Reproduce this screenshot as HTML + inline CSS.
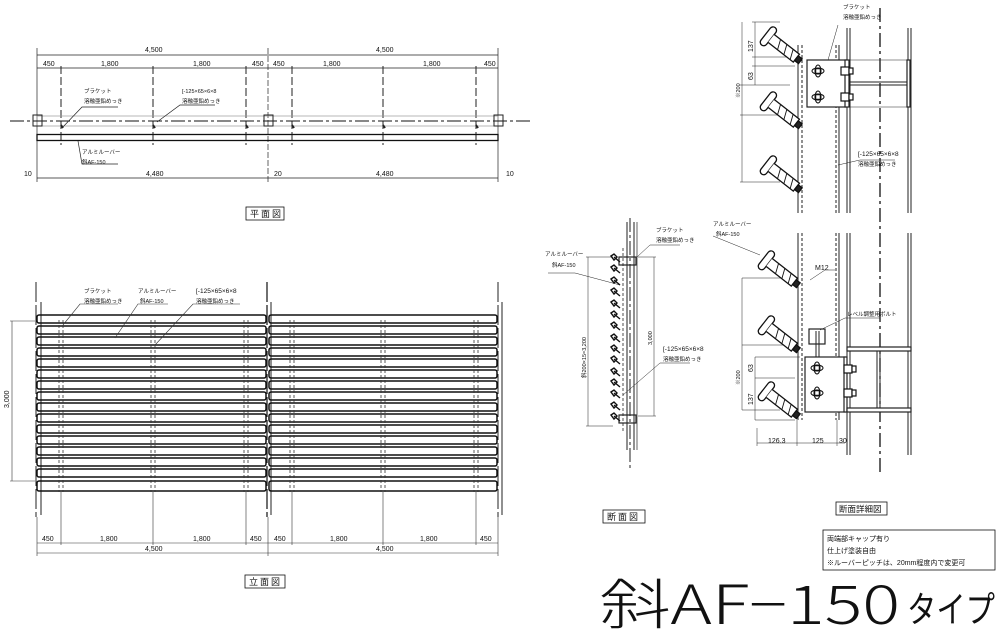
<!DOCTYPE html>
<html><head><meta charset="utf-8"><style>
html,body{margin:0;padding:0;background:#fff;}
svg{display:block;}
text{font-family:"Liberation Sans","Noto Sans CJK JP",sans-serif;fill:#111;}
.t{font-size:7px;}
.s{font-size:5.5px;}
</style></head><body>
<svg width="1000" height="636" viewBox="0 0 1000 636" xmlns="http://www.w3.org/2000/svg">
<defs>
  <g id="lv" stroke="#111" fill="#fff" stroke-width="1.3">
    <rect x="-3" y="-11" width="7" height="22" rx="3.5"/>
    <path d="M4,-5 L36,-5 L36,5 L4,5" fill="#fff"/>
    <path d="M12,-5 L16,5 M20,-5 L24,5 M28,-5 L32,5" stroke-width="0.9"/>
    <rect x="36" y="-3" width="5" height="6" fill="#222"/>
  </g>
  <g id="sl" stroke="#111" fill="none" stroke-width="1.4">
    <path d="M0,0 l3,-2 l3,3 l-3,3 z M3,1 l6,5" />
  </g>
  <g id="bolt" stroke="#111" fill="none" stroke-width="1">
    <ellipse cx="0" cy="0" rx="6" ry="3"/><ellipse cx="0" cy="0" rx="3" ry="6"/>
    <rect x="-2.5" y="-2.5" width="5" height="5" fill="#fff" stroke-width="1.5"/>
  </g>
  <g id="hb" stroke="#111" fill="#fff" stroke-width="1.2">
    <rect x="-4" y="-4" width="8" height="8"/><rect x="4" y="-3" width="4" height="6"/>
  </g>
</defs>

<!-- ================= PLAN VIEW ================= -->
<g stroke="#222" stroke-width="0.7" fill="none">
  <line x1="37" y1="55" x2="498" y2="55"/>
  <line x1="37" y1="68" x2="498" y2="68"/>
  <line x1="37" y1="178" x2="498" y2="178"/>
  <line x1="37" y1="48" x2="37" y2="182"/>
  <line x1="268" y1="48" x2="268" y2="182" stroke-dasharray="6,2"/>
  <line x1="498" y1="48" x2="498" y2="182"/>
  <g stroke-dasharray="8,3" stroke-width="1">
    <line x1="61" y1="66" x2="61" y2="145"/><line x1="153" y1="66" x2="153" y2="145"/>
    <line x1="246" y1="66" x2="246" y2="145"/><line x1="292" y1="66" x2="292" y2="145"/>
    <line x1="383" y1="66" x2="383" y2="145"/><line x1="476" y1="66" x2="476" y2="145"/>
  </g>
  <rect x="37" y="116" width="461" height="10" stroke="#999"/>
  <line x1="10" y1="121" x2="530" y2="121" stroke="#111" stroke-dasharray="14,3,3,3" stroke-width="1"/>
  <rect x="33" y="115" width="9" height="11" stroke-width="1"/>
  <rect x="264" y="115" width="9" height="11" stroke-width="1"/>
  <rect x="494" y="115" width="9" height="11" stroke-width="1"/>
  <rect x="37" y="134.5" width="461" height="6" stroke="#111" stroke-width="1.3"/>
  <path d="M63,128 l-2,-3 M155,128 l-2,-3 M248,128 l-2,-3 M294,128 l-2,-3 M385,128 l-2,-3 M478,128 l-2,-3" stroke-width="2"/>
  <path d="M62,128 L82,107 L118,107"/>
  <path d="M157,122 L180,105 L215,105"/>
  <path d="M78,141 L82,164 L118,164"/>
</g>
<g class="t">
  <text x="145" y="52">4,500</text><text x="376" y="52">4,500</text>
  <text x="43" y="66">450</text><text x="101" y="66">1,800</text><text x="193" y="66">1,800</text><text x="252" y="66">450</text>
  <text x="273" y="66">450</text><text x="323" y="66">1,800</text><text x="423" y="66">1,800</text><text x="484" y="66">450</text>
  <text x="24" y="176">10</text><text x="146" y="176">4,480</text><text x="274" y="176">20</text><text x="376" y="176">4,480</text><text x="506" y="176">10</text>
</g>
<g class="s">
  <text x="84" y="93">ブラケット</text><text x="84" y="103">溶融亜鉛めっき</text>
  <text x="182" y="93">[-125×65×6×8</text><text x="182" y="103">溶融亜鉛めっき</text>
  <text x="82" y="154">アルミルーバー</text><text x="82" y="164">斜AF-150</text>
</g>
<rect x="246" y="207" width="38" height="13" fill="none" stroke="#111" stroke-width="0.8"/>
<text x="250" y="217" style="font-size:9px;letter-spacing:2px">平面図</text>

<!-- ================= ELEVATION ================= -->
<g stroke="#222" stroke-width="1" fill="none">
  <line x1="36" y1="282" x2="36" y2="517" stroke-dasharray="20,3"/>
  <line x1="41" y1="302" x2="41" y2="515"/>
  <line x1="267" y1="282" x2="267" y2="517" stroke-dasharray="20,3" stroke-width="1.3"/>
  <line x1="271" y1="302" x2="271" y2="515"/>
  <line x1="498" y1="282" x2="498" y2="517" stroke-dasharray="20,3"/>
  <line x1="502" y1="302" x2="502" y2="515"/>
</g>
<g stroke="#111" stroke-width="1.5" fill="none">
  <rect x="37" y="315" width="229" height="8" rx="2"/><rect x="269" y="315" width="228" height="8" rx="2"/>
  <rect x="37" y="326" width="229" height="8" rx="2"/><rect x="269" y="326" width="228" height="8" rx="2"/>
  <rect x="37" y="337" width="229" height="8" rx="2"/><rect x="269" y="337" width="228" height="8" rx="2"/>
  <rect x="37" y="348" width="229" height="8" rx="2"/><rect x="269" y="348" width="228" height="8" rx="2"/>
  <rect x="37" y="359" width="229" height="8" rx="2"/><rect x="269" y="359" width="228" height="8" rx="2"/>
  <rect x="37" y="370" width="229" height="8" rx="2"/><rect x="269" y="370" width="228" height="8" rx="2"/>
  <rect x="37" y="381" width="229" height="8" rx="2"/><rect x="269" y="381" width="228" height="8" rx="2"/>
  <rect x="37" y="392" width="229" height="8" rx="2"/><rect x="269" y="392" width="228" height="8" rx="2"/>
  <rect x="37" y="403" width="229" height="8" rx="2"/><rect x="269" y="403" width="228" height="8" rx="2"/>
  <rect x="37" y="414" width="229" height="8" rx="2"/><rect x="269" y="414" width="228" height="8" rx="2"/>
  <rect x="37" y="425" width="229" height="8" rx="2"/><rect x="269" y="425" width="228" height="8" rx="2"/>
  <rect x="37" y="436" width="229" height="8" rx="2"/><rect x="269" y="436" width="228" height="8" rx="2"/>
  <rect x="37" y="447" width="229" height="8" rx="2"/><rect x="269" y="447" width="228" height="8" rx="2"/>
  <rect x="37" y="458" width="229" height="8" rx="2"/><rect x="269" y="458" width="228" height="8" rx="2"/>
  <rect x="37" y="469" width="229" height="8" rx="2"/><rect x="269" y="469" width="228" height="8" rx="2"/>
  <rect x="37" y="481" width="229" height="10" rx="2"/><rect x="269" y="481" width="228" height="10" rx="2"/>
</g>
<g stroke="#333" stroke-width="0.8" fill="none" stroke-dasharray="3,2">
  <path d="M59,320 V492 M63,320 V492 M151,320 V492 M155,320 V492 M244,320 V492 M248,320 V492"/>
  <path d="M290,320 V492 M294,320 V492 M381,320 V492 M385,320 V492 M474,320 V492 M478,320 V492"/>
</g>
<g stroke="#333" stroke-width="0.6" fill="none">
  <line x1="10" y1="321" x2="35" y2="321"/><line x1="10" y1="481" x2="35" y2="481"/>
  <line x1="12" y1="321" x2="12" y2="481"/>
  <path d="M63,325 L80,304 L118,304"/><path d="M115,338 L138,304 L168,304"/><path d="M155,345 L193,304 L240,304"/>
  <line x1="37" y1="543" x2="498" y2="543"/><line x1="37" y1="553" x2="498" y2="553"/>
  <path d="M61,492 V545 M153,492 V545 M246,492 V545 M292,492 V545 M383,492 V545 M476,492 V545"/>
  <line x1="37" y1="517" x2="37" y2="556"/><line x1="268" y1="517" x2="268" y2="556"/><line x1="498" y1="517" x2="498" y2="556"/>
</g>
<text class="t" transform="translate(9,408) rotate(-90)">3,000</text>
<g class="s">
  <text x="84" y="293">ブラケット</text><text x="84" y="303">溶融亜鉛めっき</text>
  <text x="138" y="293">アルミルーバー</text><text x="140" y="303">斜AF-150</text>
  <text x="196" y="293" style="font-size:6.5px">[-125×65×6×8</text><text x="196" y="303">溶融亜鉛めっき</text>
</g>
<g class="t">
  <text x="42" y="541">450</text><text x="100" y="541">1,800</text><text x="193" y="541">1,800</text><text x="250" y="541">450</text>
  <text x="274" y="541">450</text><text x="330" y="541">1,800</text><text x="420" y="541">1,800</text><text x="480" y="541">450</text>
  <text x="145" y="551">4,500</text><text x="376" y="551">4,500</text>
</g>
<rect x="245" y="575" width="40" height="13" fill="none" stroke="#111" stroke-width="0.8"/>
<text x="249" y="585" style="font-size:9px;letter-spacing:2px">立面図</text>

<!-- ================= SECTION ================= -->
<g stroke="#222" fill="none">
  <line x1="630" y1="218" x2="630" y2="470" stroke-dasharray="14,3,3,3" stroke-width="1"/>
  <line x1="623" y1="248" x2="623" y2="432" stroke-dasharray="3,2" stroke-width="0.8"/>
  <line x1="627" y1="222" x2="627" y2="450" stroke-width="1"/>
  <line x1="634" y1="222" x2="634" y2="450" stroke-width="1"/>
  <line x1="637" y1="222" x2="637" y2="450" stroke-width="0.7"/>
  <rect x="619" y="257" width="17" height="8" stroke-width="1.2"/>
  <rect x="619" y="415" width="17" height="8" stroke-width="1.2"/>
  <line x1="586" y1="257" x2="613" y2="257" stroke-width="0.5"/><line x1="586" y1="426" x2="613" y2="426" stroke-width="0.5"/>
  <line x1="588" y1="257" x2="588" y2="426" stroke-width="0.5"/>
  <line x1="638" y1="257" x2="656" y2="257" stroke-width="0.5"/><line x1="638" y1="416" x2="656" y2="416" stroke-width="0.5"/>
  <line x1="654" y1="257" x2="654" y2="416" stroke-width="0.5"/>
  <path d="M637,257 L650,245 L680,245" stroke-width="0.5"/>
  <path d="M620,285 L575,273 L548,273" stroke-width="0.5"/>
  <path d="M623,395 L660,363 L690,363" stroke-width="0.5"/>
</g>
<g>
  <use href="#sl" x="611" y="256"/><use href="#sl" x="611" y="267"/><use href="#sl" x="611" y="279"/>
  <use href="#sl" x="611" y="290"/><use href="#sl" x="611" y="302"/><use href="#sl" x="611" y="313"/>
  <use href="#sl" x="611" y="324"/><use href="#sl" x="611" y="336"/><use href="#sl" x="611" y="347"/>
  <use href="#sl" x="611" y="358"/><use href="#sl" x="611" y="370"/><use href="#sl" x="611" y="381"/>
  <use href="#sl" x="611" y="392"/><use href="#sl" x="611" y="404"/><use href="#sl" x="611" y="415"/>
</g>
<g class="s">
  <text x="656" y="232">ブラケット</text><text x="656" y="242">溶融亜鉛めっき</text>
  <text x="545" y="256">アルミルーバー</text><text x="552" y="267">斜AF-150</text>
  <text x="663" y="351" style="font-size:6.5px">[-125×65×6×8</text><text x="663" y="361">溶融亜鉛めっき</text>
</g>
<text class="s" transform="translate(586,378) rotate(-90)">斜200×15=3,200</text>
<text class="s" transform="translate(652,345) rotate(-90)">3,000</text>
<rect x="603" y="510" width="42" height="13" fill="none" stroke="#111" stroke-width="0.8"/>
<text x="607" y="520" style="font-size:9px;letter-spacing:2px">断面図</text>

<!-- ================= DETAIL ================= -->
<g stroke="#222" fill="none">
  <line x1="880" y1="8" x2="880" y2="476" stroke="#111" stroke-width="1.3" stroke-dasharray="14,4,3,4"/>
  <g stroke-width="1">
    <path d="M798,45 V213 M798,233 V420"/>
    <path d="M802,45 V213 M802,233 V420" stroke-dasharray="3,2"/>
    <path d="M836,45 V213 M836,233 V420" stroke-dasharray="3,2"/>
    <path d="M839,45 V213 M839,233 V420"/>
    <path d="M847,28 V213 M847,233 V455"/>
    <path d="M850,28 V213 M850,233 V455"/>
    <path d="M908,28 V213 M908,233 V455"/>
    <path d="M911,28 V213 M911,233 V455"/>
  </g>
  <rect x="807" y="60" width="40" height="47" fill="#fff" stroke-width="1.2"/>
  <rect x="845" y="60" width="4" height="47" fill="#fff" stroke-width="1.2"/>
  <rect x="907" y="60" width="3" height="47" fill="#fff" stroke-width="1.2"/>
  <line x1="849" y1="60" x2="907" y2="60" stroke-width="0.6"/><line x1="849" y1="107" x2="907" y2="107" stroke-width="0.6"/>
  <path d="M849,82 H907 M849,85 H907" stroke-width="1"/>
  <rect x="805" y="357" width="40" height="55" fill="#fff" stroke-width="1.2"/>
  <rect x="844" y="357" width="3" height="55" fill="#fff" stroke-width="1.2"/>
  <rect x="847" y="347" width="64" height="4" fill="#fff" stroke-width="1.2"/>
  <rect x="847" y="408" width="64" height="4" fill="#fff" stroke-width="1.2"/>
  <path d="M877,351 V408 M880,351 V408" stroke-width="1"/>
  <rect x="809" y="329" width="16" height="15" fill="#fff" stroke-width="1.2"/>
  <path d="M816,331 V357 M819,331 V357" stroke-width="1"/>
  <g stroke-width="0.5">
    <path d="M752,22 H780 M752,57 H795 M752,66 H795 M740,85 H790 M740,115 H780 M740,182 H780 M742,22 V182"/>
    <path d="M755,22 V85"/>
    <path d="M742,278 H790 M742,345 H790 M755,357 H800 M755,378 H795 M742,410 H780 M755,420 H795 M742,278 V410 M755,357 V420"/>
    <path d="M757,443 H845 M757,428 V446 M797,420 V446 M837,420 V446 M847,420 V446"/>
    <path d="M838,25 L828,60" /><path d="M838,165 L860,160 L895,160"/>
    <path d="M713,236 L760,255"/><path d="M810,280 L825,270 L835,270"/>
    <path d="M820,330 L845,318 L880,318"/>
  </g>
</g>
<g>
  <use href="#lv" transform="translate(768,36) rotate(38)"/>
  <use href="#lv" transform="translate(768,101) rotate(38)"/>
  <use href="#lv" transform="translate(768,165) rotate(38)"/>
  <use href="#lv" transform="translate(766,260) rotate(38)"/>
  <use href="#lv" transform="translate(766,325) rotate(38)"/>
  <use href="#lv" transform="translate(766,391) rotate(38)"/>
  <use href="#bolt" x="818" y="71"/><use href="#bolt" x="818" y="97"/>
  <use href="#bolt" x="817" y="368"/><use href="#bolt" x="817" y="393"/>
  <use href="#hb" x="845" y="71"/><use href="#hb" x="845" y="97"/>
  <use href="#hb" x="848" y="369"/><use href="#hb" x="848" y="393"/>
</g>
<g class="s">
  <text x="843" y="9">ブラケット</text><text x="843" y="19">溶融亜鉛めっき</text>
  <text x="858" y="156" style="font-size:6.5px">[-125×65×6×8</text><text x="858" y="166">溶融亜鉛めっき</text>
  <text x="713" y="226">アルミルーバー</text><text x="716" y="236">斜AF-150</text>
  <text x="815" y="270" style="font-size:7px">M12</text>
  <text x="847" y="316">レベル調整用ボルト</text>
  <text x="768" y="443" style="font-size:7px">126.3</text><text x="812" y="443" style="font-size:7px">125</text><text x="839" y="443" style="font-size:7px">30</text>
</g>
<g class="s">
  <text transform="translate(753,52) rotate(-90)" style="font-size:7px">137</text>
  <text transform="translate(753,80) rotate(-90)" style="font-size:7px">63</text>
  <text transform="translate(740,98) rotate(-90)">※200</text>
  <text transform="translate(753,372) rotate(-90)" style="font-size:7px">63</text>
  <text transform="translate(753,405) rotate(-90)" style="font-size:7px">137</text>
  <text transform="translate(740,385) rotate(-90)">※200</text>
</g>
<rect x="836" y="502" width="51" height="13" fill="none" stroke="#111" stroke-width="0.8"/>
<text x="839" y="512" style="font-size:8.5px">断面詳細図</text>

<!-- ================= NOTES ================= -->
<rect x="823" y="530" width="172" height="40" fill="none" stroke="#111" stroke-width="0.8"/>
<text x="827" y="541" style="font-size:7px">両端部キャップ有り</text>
<text x="827" y="553" style="font-size:7px">仕上げ塗装自由</text>
<text x="827" y="565" style="font-size:7px">※ルーバーピッチは、20mm程度内で変更可</text>

<text x="600" y="624" textLength="300" lengthAdjust="spacingAndGlyphs" style="font-size:54px;font-family:'Noto Sans CJK JP','Liberation Sans',sans-serif;font-weight:300">斜AF−150</text>
<text x="907" y="622" textLength="88" lengthAdjust="spacingAndGlyphs" style="font-size:36px;font-family:'Noto Sans CJK JP','Liberation Sans',sans-serif;font-weight:400">タイプ</text>
</svg>
</body></html>
